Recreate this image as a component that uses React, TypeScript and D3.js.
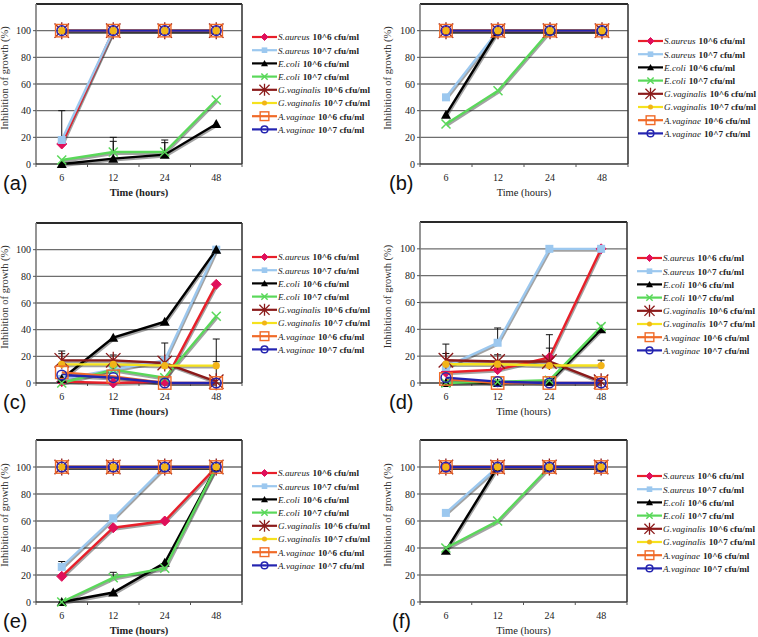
import React from 'react';
import * as d3 from 'd3';

const categories = ['6', '12', '24', '48'];
const yTicks = [0, 20, 40, 60, 80, 100, 120];
const yLabels = [0, 20, 40, 60, 80, 100];
const species = ['S.aureus', 'S.aureus', 'E.coli', 'E.coli', 'G.vaginalis', 'G.vaginalis', 'A.vaginae', 'A.vaginae'];
const doses = ['10^6 cfu/ml', '10^7 cfu/ml', '10^6 cfu/ml', '10^7 cfu/ml', '10^6 cfu/ml', '10^7 cfu/ml', '10^6 cfu/ml', '10^7 cfu/ml'];
const panelLetters = ['(a)', '(b)', '(c)', '(d)', '(e)', '(f)'];

// values per series (order as in legend) per panel
const valuesA = [
  [15, 100, 100, 100],
  [18, 100, 100, 100],
  [0, 4, 7, 30],
  [3, 9, 9, 48],
  [100, 100, 100, 100],
  [100, 100, 100, 100],
  [100, 100, 100, 100],
  [100, 100, 100, 100],
];
const valuesB = [
  [100, 100, 100, 100],
  [50, 100, 100, 100],
  [37, 100, 100, 100],
  [30, 55, 100, 100],
  [100, 100, 100, 100],
  [100, 100, 100, 100],
  [100, 100, 100, 100],
  [100, 100, 100, 100],
];
const valuesC = [
  [1, 0, 1, 74],
  [3, 10, 17, 100],
  [3, 34, 46, 100],
  [0, 10, 4, 50],
  [17, 17, 15, 1],
  [14, 14, 13, 13],
  [8, 5, 0, 0],
  [6, 4, 0, 0],
];
const valuesD = [
  [8, 10, 19, 100],
  [12, 30, 100, 100],
  [0, 0, 1, 40],
  [0, 1, 2, 42],
  [17, 16, 16, 1],
  [14, 14, 13, 13],
  [3, 0, 0, 0],
  [4, 1, 0, 0],
];
const valuesE = [
  [19, 55, 60, 100],
  [26, 62, 100, 100],
  [0, 7, 29, 100],
  [0, 18, 25, 100],
  [100, 100, 100, 100],
  [100, 100, 100, 100],
  [100, 100, 100, 100],
  [100, 100, 100, 100],
];
const valuesF = [
  [100, 100, 100, 100],
  [66, 100, 100, 100],
  [38, 100, 100, 100],
  [40, 60, 100, 100],
  [100, 100, 100, 100],
  [100, 100, 100, 100],
  [100, 100, 100, 100],
  [100, 100, 100, 100],
];

// error bars: [category index, from value, to value]
const errorsA = [[0, 15, 40], [1, 9, 20], [1, 9, 17], [2, 9, 18], [2, 7, 16]];
const errorsB: number[][] = [];
const errorsC = [[0, 17, 24], [0, 14, 22], [1, 17, 21], [2, 15, 30], [3, 13, 33], [3, 1, 16]];
const errorsD = [[0, 17, 29], [0, 14, 22], [1, 30, 41], [1, 16, 21], [2, 19, 36], [2, 16, 26], [3, 13, 17]];
const errorsE = [[0, 26, 30], [1, 18, 22]];
const errorsF: number[][] = [];

const seriesStyle = [
  { line: '#e8202a', marker: 'diamond', mfill: '#e0105a' },
  { line: '#9cc8ef', marker: 'square', mfill: '#9cc8ef' },
  { line: '#000000', marker: 'triangle', mfill: '#000000' },
  { line: '#5ad85a', marker: 'cross', mfill: '#5ad85a' },
  { line: '#8b1a1a', marker: 'star', mfill: '#8b1a1a' },
  { line: '#f5e21e', marker: 'circle', mfill: '#f2b418' },
  { line: '#f06a28', marker: 'hsquare', mfill: '#f06a28' },
  { line: '#2424b0', marker: 'hcircle', mfill: '#2424b0' },
];

const panels = [
  { values: valuesA, errors: errorsA, left: 36, right: 242, top: 4, bottom: 164, legOff: 33, letterX: 3, yLabX: 8, timeBold: true },
  { values: valuesB, errors: errorsB, left: 420, right: 628, top: 4, bottom: 164, legOff: 37, letterX: 389, yLabX: 391, timeBold: false },
  { values: valuesC, errors: errorsC, left: 36, right: 242, top: 223, bottom: 383, legOff: 34, letterX: 3, yLabX: 8, timeBold: true },
  { values: valuesD, errors: errorsD, left: 420, right: 627, top: 222, bottom: 383, legOff: 36, letterX: 389, yLabX: 391, timeBold: false },
  { values: valuesE, errors: errorsE, left: 36, right: 242, top: 440, bottom: 602, legOff: 33, letterX: 3, yLabX: 8, timeBold: true },
  { values: valuesF, errors: errorsF, left: 420, right: 627, top: 440, bottom: 602, legOff: 36, letterX: 392, yLabX: 391, timeBold: false },
];

const SERIF = "'Liberation Serif', 'Times New Roman', Times, serif";
const SANS = "'Liberation Sans', Arial, sans-serif";

function Marker({ type, x, y, color, s = 1 }: { type: string; x: number; y: number; color: string; s?: number }) {
  switch (type) {
    case 'diamond': {
      const r = 5 * s;
      return <path d={`M${x},${y - r}L${x + r},${y}L${x},${y + r}L${x - r},${y}Z`} fill={color} stroke={color} />;
    }
    case 'square': {
      const r = 4 * s;
      return <rect x={x - r} y={y - r} width={2 * r} height={2 * r} fill={color} />;
    }
    case 'triangle': {
      const r = 5 * s;
      return <path d={`M${x},${y - r}L${x + r},${y + r * 0.8}L${x - r},${y + r * 0.8}Z`} fill={color} />;
    }
    case 'cross': {
      const r = 4.5 * s;
      return <path d={`M${x - r},${y - r}L${x + r},${y + r}M${x - r},${y + r}L${x + r},${y - r}`} stroke={color} strokeWidth={1.5} fill="none" />;
    }
    case 'star': {
      const r = 8.5 * s;
      const q = r * 0.85;
      return <path d={`M${x - q},${y - q}L${x + q},${y + q}M${x - q},${y + q}L${x + q},${y - q}M${x},${y - r}L${x},${y + r}`} stroke={color} strokeWidth={1.3} fill="none" />;
    }
    case 'circle':
      return <circle cx={x} cy={y} r={3.6 * s} fill={color} />;
    case 'hsquare': {
      const r = 6.2 * s;
      return <rect x={x - r} y={y - r} width={2 * r} height={2 * r} fill="none" stroke={color} strokeWidth={1.4} />;
    }
    case 'hcircle':
      return <circle cx={x} cy={y} r={4.8 * s} fill="none" stroke={color} strokeWidth={1.5} />;
    default:
      return null;
  }
}

function Panel({ cfg, idx }: { cfg: any; idx: number }) {
  const { values, errors, left, right, top, bottom, legOff, letterX, yLabX, timeBold } = cfg;
  const x = d3.scalePoint<string>().domain(categories).range([left, right]).padding(0.5);
  const y = d3.scaleLinear().domain([0, 120]).range([bottom, top]);
  const step = (right - left) / categories.length;
  const line = d3
    .line<number>()
    .x((_, i) => x(categories[i]) as number)
    .y((d) => y(d));
  const legX = right + 10;
  const legY0 = top + legOff;
  const legStep = 13.2;
  return (
    <g>
      {yTicks.slice(1, -1).map((t) => (
        <line key={t} x1={left} x2={right} y1={y(t)} y2={y(t)} stroke="#6e6e6e" strokeWidth={1.3} />
      ))}
      <line x1={left} x2={right} y1={top} y2={top} stroke="#2a2a2a" strokeWidth={2} />
      <line x1={right} x2={right} y1={top} y2={bottom} stroke="#3a3a3a" strokeWidth={1.6} />
      <line x1={left} x2={left} y1={top} y2={bottom} stroke="#7a7a7a" strokeWidth={1.6} />
      <line x1={left} x2={right} y1={bottom} y2={bottom} stroke="#3a3a3a" strokeWidth={1.6} />
      {yLabels.map((t) => (
        <g key={t}>
          <line x1={left - 3} x2={left} y1={y(t)} y2={y(t)} stroke="#555" />
          <text x={left - 5} y={y(t) + 3.5} textAnchor="end" style={{ fontFamily: SERIF }} fontSize={10} fill="#222">
            {t}
          </text>
        </g>
      ))}
      {d3.range(categories.length + 1).map((i) => (
        <line key={i} x1={left + i * step} x2={left + i * step} y1={bottom} y2={bottom + 3} stroke="#555" />
      ))}
      {categories.map((c) => (
        <text key={c} x={x(c)} y={bottom + 17} textAnchor="middle" style={{ fontFamily: SERIF }} fontSize={10} fill="#222">
          {c}
        </text>
      ))}
      <text x={(left + right) / 2} y={bottom + 32} textAnchor="middle" style={{ fontFamily: SERIF }} fontSize={10.5} fontWeight={timeBold ? 'bold' : 'normal'} fill="#222">
        Time (hours)
      </text>
      <text
        transform={`translate(${yLabX},${(top + bottom) / 2 - 6}) rotate(-90)`}
        textAnchor="middle"
        style={{ fontFamily: SERIF }}
        fontSize={10.5}
        fill="#333"
      >
        Inhibition of growth (%)
      </text>
      <text x={letterX} y={bottom + 26} style={{ fontFamily: SANS }} fontSize={20} fill="#111">
        {panelLetters[idx]}
      </text>
      {values.map((v: number[], i: number) => (
        <path key={'s' + i} d={line(v) as string} fill="none" stroke="#333" strokeOpacity={0.45} strokeWidth={2.6} transform="translate(0.8,1.6)" />
      ))}
      {values.map((v: number[], i: number) => (
        <path key={'l' + i} d={line(v) as string} fill="none" stroke={seriesStyle[i].line} strokeWidth={2.4} />
      ))}
      {errors.map((e: number[], i: number) => {
        const cx = x(categories[e[0]]) as number;
        return (
          <g key={'e' + i}>
            <line x1={cx} x2={cx} y1={y(e[1])} y2={y(e[2])} stroke="#111" strokeWidth={1} />
            <line x1={cx - 3.5} x2={cx + 3.5} y1={y(e[2])} y2={y(e[2])} stroke="#111" strokeWidth={1} />
          </g>
        );
      })}
      {values.map((v: number[], i: number) =>
        v.map((d, j) => (
          <Marker key={`m${i}-${j}`} type={seriesStyle[i].marker} x={x(categories[j]) as number} y={y(d)} color={seriesStyle[i].mfill} />
        ))
      )}
      {species.map((sp, i) => {
        const ly = legY0 + i * legStep;
        return (
          <g key={'lg' + i}>
            <line x1={legX} x2={legX + 25} y1={ly} y2={ly} stroke={seriesStyle[i].line} strokeWidth={2.2} />
            <Marker type={seriesStyle[i].marker} x={legX + 12.5} y={ly} color={seriesStyle[i].mfill} s={0.7} />
            <text x={legX + 26} y={ly + 3.3} style={{ fontFamily: SERIF }} fontSize={9.2} fill="#222">
              <tspan fontStyle="italic">{sp}</tspan>
              <tspan fontWeight="bold" dx={3}>{doses[i]}</tspan>
            </text>
          </g>
        );
      })}
    </g>
  );
}

export default function App() {
  return (
    <svg width={758} height={637} style={{ position: 'absolute', left: 0, top: 0, background: '#fff' }}>
      <rect width={758} height={637} fill="#fff" />
      {panels.map((p, i) => (
        <Panel key={i} cfg={p} idx={i} />
      ))}
    </svg>
  );
}
